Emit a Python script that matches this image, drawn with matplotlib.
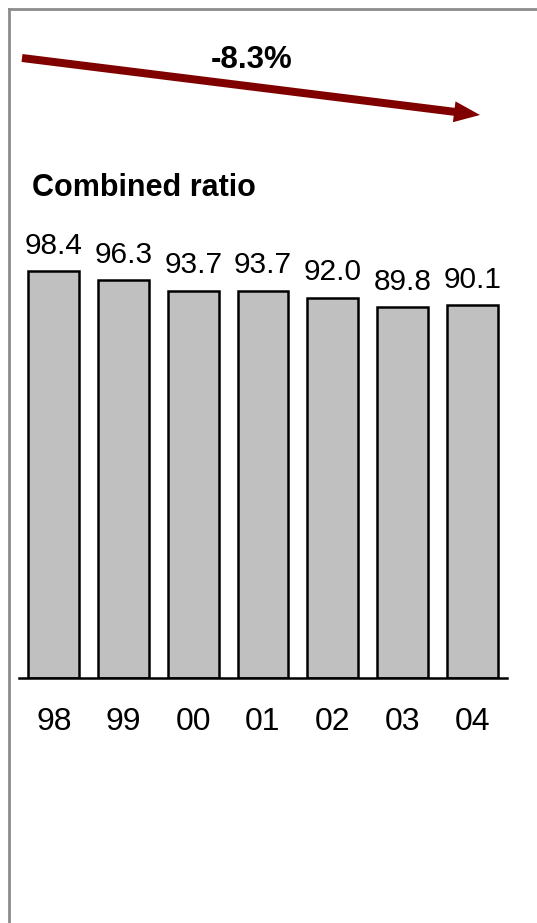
import numpy as np
import matplotlib
matplotlib.use('Agg')
from matplotlib import pyplot as plt
from matplotlib.patches import FancyArrow
from matplotlib.lines import Line2D

years  = ['98', '99', '00', '01', '02', '03', '04']
ratios = [98.4, 96.3, 93.7, 93.7, 92.0, 89.8, 90.1]
change = '-8.3%'
title  = 'Combined ratio'

W, H, DPI = 537, 923, 100
plt.rcParams['font.family'] = ['Liberation Sans', 'DejaVu Sans']

fig = plt.figure(figsize=(W/DPI, H/DPI), dpi=DPI)
fig.patch.set_facecolor('white')

# bar panel, placed in pixel units
x0, x1 = 19, 507
base, top = 678, 264.5
ax = fig.add_axes([x0/W, (H-base)/H, (x1-x0)/W, (base-top)/H])
x = np.arange(len(years))
ax.bar(x, ratios, width=0.73, color='#c0c0c0', edgecolor='black', linewidth=1.8, zorder=2)
for xi, v in zip(x, ratios):
  ax.annotate(f'{v:.1f}', (xi, v), xytext=(0, 8), textcoords='offset points',
              ha='center', va='bottom', fontsize=21.5, color='black')
ax.set_xlim(-0.5, len(years)-0.5)
ax.set_ylim(0, 100)
ax.set_xticks(x)
ax.set_xticklabels(years, fontsize=23)
ax.tick_params(axis='x', length=0, pad=21)
ax.set_yticks([])
for s in ['top', 'right', 'left']:
  ax.spines[s].set_visible(False)
ax.spines['bottom'].set_linewidth(1.8)
ax.patch.set_alpha(0)

# overlay in pixel coords for arrow, headings and frame
ov = fig.add_axes([0, 0, 1, 1])
ov.set_xlim(0, W)
ov.set_ylim(H, 0)
ov.axis('off')
ov.patch.set_alpha(0)

ov.add_patch(FancyArrow(22, 58, 458, 57, width=8, head_width=21, head_length=26,
                        length_includes_head=True, color='#800000', linewidth=0))
ov.text(252, 60, change, ha='center', va='center', fontsize=22.5, fontweight='bold')
ov.text(32, 188, title, ha='left', va='center', fontsize=22, fontweight='bold')

ov.add_line(Line2D([8.5, 8.5], [8.5, H], color='#8c8c8c', linewidth=2))
ov.add_line(Line2D([8.5, W], [8.5, 8.5], color='#8c8c8c', linewidth=2))

fig.savefig('out.png', dpi=DPI)
